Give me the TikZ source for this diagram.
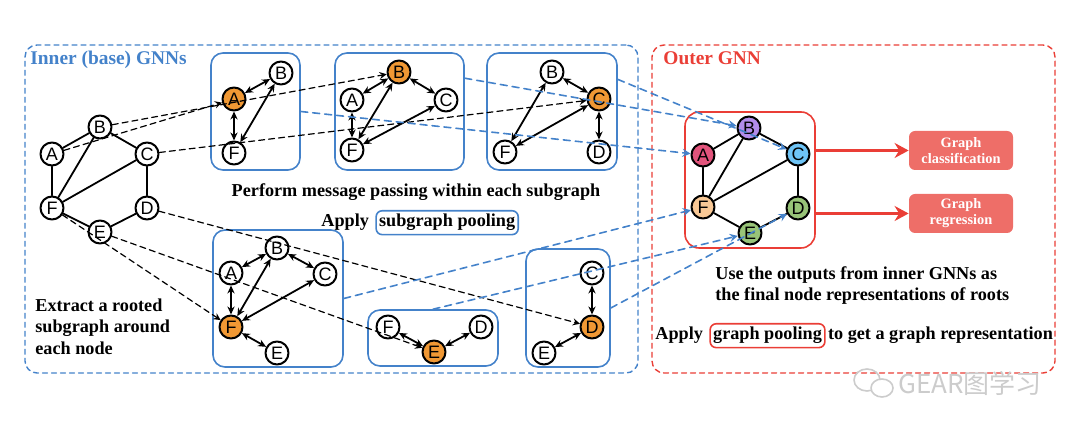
\documentclass[tikz,border=0pt]{standalone}
\usepackage{fontspec}
\setmainfont{Liberation Serif}
\newfontfamily\letterfont{Liberation Sans}
\newfontfamily\cjkfont{Noto Sans CJK SC}
\usetikzlibrary{arrows.meta,positioning,fit}

\definecolor{gnnblue}{RGB}{68,130,202}
\definecolor{gnnred}{RGB}{234,62,54}
\definecolor{rootorange}{RGB}{240,152,52}
\definecolor{taskred}{RGB}{238,110,104}
\definecolor{colA}{RGB}{226,84,124}
\definecolor{colB}{RGB}{178,140,234}
\definecolor{colC}{RGB}{110,196,246}
\definecolor{colD}{RGB}{152,196,120}
\definecolor{colF}{RGB}{248,200,150}

\tikzset{
	vert/.style={circle, draw, line width=1pt, fill=white, minimum size=11.5pt, inner sep=0pt, font=\letterfont\fontsize{9}{9}\selectfont},
	rootv/.style={vert, fill=rootorange},
	link/.style={line width=0.9pt},
	msg/.style={{Stealth[length=4pt,width=3.6pt]}-{Stealth[length=4pt,width=3.6pt]}, line width=0.9pt},
	sub/.style={draw=gnnblue, line width=0.8pt, rounded corners=6pt, inner sep=0pt},
	zone/.style={line width=0.7pt, dash pattern=on 2.5pt off 2pt, rounded corners=6pt, inner sep=0pt},
	pick/.style={->, line width=0.6pt, dash pattern=on 3pt off 2pt},
	feed/.style={->, draw=gnnblue, line width=0.8pt, dash pattern=on 3.5pt off 2.5pt},
	taskarrow/.style={-{Stealth[length=7pt,width=7.5pt]}, draw=gnnred, line width=1.5pt},
	title/.style={font=\fontsize{9.7}{11}\selectfont\bfseries, inner sep=0pt},
	txt/.style={font=\fontsize{9.1}{10.75}\selectfont\bfseries, inner sep=0pt},
	poolbox/.style={txt, draw, line width=0.8pt, rounded corners=3pt, inner xsep=1.5pt, inner ysep=1.8pt},
	task/.style={fill=taskred, text=white, rounded corners=3pt, minimum width=52pt, minimum height=19.5pt, inner sep=0pt, align=center, font=\fontsize{7.2}{8}\selectfont\bfseries},
}

\begin{document}
\begin{tikzpicture}[x=0.5pt, y=-0.5pt, line join=round, line cap=round, >=stealth]
	\useasboundingbox (0,0) rectangle (1080,431);
	% the two dashed frames
	\node[zone, draw=gnnblue, fit={(25,45) (638,373)}] (inner) {};
	\node[zone, draw=gnnred, fit={(652,45) (1055,373)}] (outer) {};
	\node[title, text=gnnblue, anchor=base west] (innertitle) at (30,64.5) {Inner (base) GNNs};
	\node[title, text=gnnred, anchor=base west] (outertitle) at (663,65) {Outer GNN};
	
	% input graph
	\foreach \n/\x/\y in {A/52/154, B/100/127, C/147/154, D/147/208, E/100/232, F/52/208}
		\node[vert] (g\n) at (\x,\y) {\n};
	\foreach \u/\v in {A/B, B/C, C/D, D/E, E/F, F/A, F/B, F/C}
		\draw[link] (g\u) -- (g\v);
	
	% rooted subgraphs
	\node[rootv] (aA) at (234,99) {A};
	\node[vert] (aB) at (281,73) {B};
	\node[vert] (aF) at (234,153) {F};
	\node[sub, fit={(211,53) (300,170)}] (boxA) {};
	\foreach \u/\v in {A/B, A/F, F/B}
		\draw[msg] (a\u) -- (a\v);
	
	\node[rootv] (bB) at (399,72) {B};
	\node[vert] (bA) at (352,100) {A};
	\node[vert] (bC) at (446,100) {C};
	\node[vert] (bF) at (352,150) {F};
	\node[sub, fit={(335,53) (464,170)}] (boxB) {};
	\foreach \u/\v in {A/B, B/C, A/F, B/F, C/F}
		\draw[msg] (b\u) -- (b\v);
	
	\node[rootv] (cC) at (599,99) {C};
	\node[vert] (cB) at (552,72) {B};
	\node[vert] (cF) at (505,152) {F};
	\node[vert] (cD) at (599,152) {D};
	\node[sub, fit={(487,53) (617,170)}] (boxC) {};
	\foreach \u/\v in {B/C, B/F, C/F, C/D}
		\draw[msg] (c\u) -- (c\v);
	
	\node[rootv] (fF) at (231,327) {F};
	\node[vert] (fB) at (277,248) {B};
	\node[vert] (fA) at (231,273) {A};
	\node[vert] (fC) at (325,274) {C};
	\node[vert] (fE) at (277,353) {E};
	\node[sub, fit={(213,230) (343,367)}] (boxF) {};
	\foreach \u/\v in {A/B, B/C, A/F, B/F, C/F, F/E}
		\draw[msg] (f\u) -- (f\v);
	
	\node[rootv] (eE) at (434,352) {E};
	\node[vert] (eF) at (388,327) {F};
	\node[vert] (eD) at (481,327) {D};
	\node[sub, fit={(368,310) (498,366)}] (boxE) {};
	\foreach \u/\v in {F/E, E/D}
		\draw[msg] (e\u) -- (e\v);
	
	\node[rootv] (dD) at (592,327) {D};
	\node[vert] (dC) at (592,273) {C};
	\node[vert] (dE) at (544,353) {E};
	\node[sub, fit={(526,249) (610,367)}] (boxD) {};
	\foreach \u/\v in {C/D, D/E}
		\draw[msg] (d\u) -- (d\v);
	
	% extraction of each rooted subgraph
	\draw[pick] (gA) -- (aA);
	\draw[pick] (gB) -- (bB);
	\draw[pick] (gC) -- (cC);
	\draw[pick] (gD) -- (dD);
	\draw[pick] (gE) -- (eE);
	\draw[pick] (gF) -- (fF);
	
	% outer graph
	\foreach \n/\x/\y/\c in {A/703/155/colA, B/749/128/colB, C/798/154/colC, D/798/208/colD, E/750/233/colD, F/703/207/colF}
		\node[vert, fill=\c] (o\n) at (\x,\y) {\n};
	\foreach \u/\v in {A/B, B/C, C/D, D/E, E/F, F/A, F/B, F/C}
		\draw[link] (o\u) -- (o\v);
	\node[draw=gnnred, line width=0.8pt, rounded corners=7pt, inner sep=0pt, fit={(685,112) (815,248)}] (outerbox) {};
	
	% pooled subgraphs become root representations
	\draw[feed] (boxA.east) -- (oA);
	\draw[feed] (boxB.27) -- (oB);
	\draw[feed] (boxC.26) -- (oC);
	\draw[feed] (boxF.east) -- (oF);
	\draw[feed] (boxE.north) -- (oE);
	\draw[feed] (boxD.east) -- (oD);
	
	% tasks
	\node[task] (classify) at (961,150.5) {Graph\\classification};
	\node[task] (regress) at (961,213.5) {Graph\\regression};
	\draw[taskarrow] (outerbox.east |- classify) -- (classify);
	\draw[taskarrow] (outerbox.east |- regress) -- (regress);
	
	% captions
	\node[txt, anchor=base] (perform) at (416,197) {Perform message passing within each subgraph};
	\node[txt, anchor=base west] (applysub) at (321,227) {Apply};
	\node[poolbox, draw=gnnblue, base right=3pt of applysub] (subpool) {subgraph pooling};
	\node[txt, anchor=north west, align=left] (extract) at (35,298) {Extract a rooted\\subgraph around\\each node};
	\node[txt, anchor=north west, align=left] (useout) at (715,266) {Use the outputs from inner GNNs as\\the final node representations of roots};
	\node[txt, anchor=base west] (applygraph) at (655,340) {Apply};
	\node[poolbox, draw=gnnred, base right=3pt of applygraph] (graphpool) {graph pooling};
	\node[txt, base right=1pt of graphpool] (getrep) {to get a graph representation};
	
	% watermark
	\draw[black!20, line width=0.8pt] (867,380) ellipse [x radius=6.5pt, y radius=5.5pt];
	\draw[black!20, line width=0.8pt, fill=white] (882,388) ellipse [x radius=5.5pt, y radius=4.5pt];
	\node[font=\cjkfont\fontsize{13}{13}\selectfont, text=black!20, anchor=west, inner sep=0pt] (mark) at (898,384) {GEAR图学习};
\end{tikzpicture}
\end{document}
